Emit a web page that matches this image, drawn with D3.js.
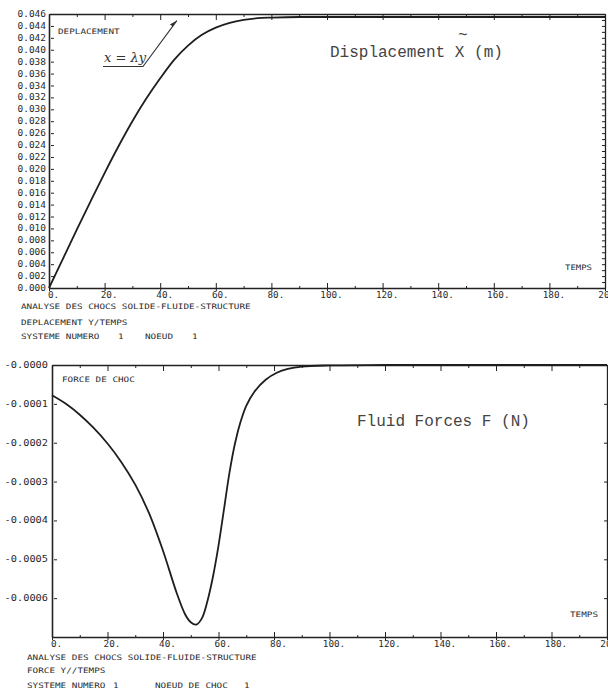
<!DOCTYPE html>
<html lang="fr">
  <head>
    <meta charset="utf-8">
    <title>Analyse des chocs solide-fluide-structure</title>
    <script src="https://cdn.jsdelivr.net/npm/d3@7"></script>
    <style>
      body { margin: 0; background: #fff; }
      svg { display: block; }
      .plot { font-family: "DejaVu Sans Mono", monospace; fill: #2a2a2a; }
      .axis path, .axis line { stroke: #222; }
      .curve { fill: none; stroke: #1e1e1e; stroke-width: 1.8; }
      .big { font-family: "Liberation Mono", "DejaVu Sans Mono", monospace; font-size: 16px; fill: #444; }
    </style>
  </head>
  <body>
    <div id="chart"></div>
    <script>
      // time axis (TEMPS)
      var xTickValues = [0, 20, 40, 60, 80, 100, 120, 140, 160, 180, 200];
      var xTickLabels = ["0.", "20.", "40.", "60.", "80.", "100.", "120.", "140.", "160.", "180.", "200."];
      var xMinorTicks = [10, 30, 50, 70, 90, 110, 130, 150, 170, 190];

      // displacement Y / temps
      var dispTime = [0, 5, 10, 15, 20, 25, 30, 35, 40, 45, 50, 55, 60, 65, 70, 75, 80, 90, 100, 200];
      var dispValue = [0, 0.0049, 0.0098, 0.0146, 0.0193, 0.0238, 0.0280, 0.0318, 0.0352, 0.0383,
                       0.0407, 0.0425, 0.0437, 0.0445, 0.0450, 0.0453, 0.0454, 0.0455, 0.0455, 0.0455];
      var dispTickLabels = ["0.000", "0.002", "0.004", "0.006", "0.008", "0.010", "0.012", "0.014",
                            "0.016", "0.018", "0.020", "0.022", "0.024", "0.026", "0.028", "0.030",
                            "0.032", "0.034", "0.036", "0.038", "0.040", "0.042", "0.044", "0.046"];

      // force de choc / temps
      var forceTime = [0, 5, 10, 15, 20, 25, 30, 35, 40, 45, 48, 50, 52, 54, 56, 58, 60, 62, 64, 66,
                       68, 70, 73, 77, 81, 85, 90, 100, 120, 200];
      var forceValue = [-0.000078, -0.000100, -0.000128, -0.000162, -0.000202, -0.000250, -0.000308,
                        -0.000382, -0.000478, -0.000588, -0.000642, -0.000662, -0.000668, -0.000652,
                        -0.000608, -0.000545, -0.000465, -0.000370, -0.000275, -0.000200, -0.000145,
                        -0.000105, -0.000068, -0.000038, -0.000020, -0.000010, -0.000004, -0.000001, 0, 0];
      var forceTickLabels = ["-0.0000", "-0.0001", "-0.0002", "-0.0003", "-0.0004", "-0.0005", "-0.0006"];

      var W = 608, H = 692;
      var svg = d3.select("#chart").append("svg")
          .attr("width", W).attr("height", H);

      // plotter-like lettering: monospace squeezed to a fixed character pitch
      function ptext(g, str, x, y, size, pitch, anchor) {
        return g.append("text")
            .attr("class", "plot")
            .attr("x", x).attr("y", y)
            .attr("font-size", size)
            .attr("text-anchor", anchor || "start")
            .attr("textLength", str.length * pitch)
            .attr("lengthAdjust", "spacingAndGlyphs")
            .text(str);
      }

      function fitLabels(sel, pitch) {
        sel.selectAll("text").each(function() {
          var t = d3.select(this);
          t.attr("textLength", t.text().length * pitch).attr("lengthAdjust", "spacingAndGlyphs");
        });
      }

      function frame(g, x, y, yTicks, yLabels, yPitch, yPad, rightTicks) {
        var x0 = x.range()[0], x1 = x.range()[1];
        var y0 = y.range()[0], y1 = y.range()[1];

        // bottom axis, major ticks cross the line
        var xb = g.append("g").attr("class", "axis").attr("transform", "translate(0," + y0 + ")")
            .call(d3.axisBottom(x).tickValues(xTickValues)
              .tickFormat(function(d, i) { return xTickLabels[i]; })
              .tickSize(-5).tickSizeOuter(0).tickPadding(0));
        xb.select(".domain").attr("stroke-width", 1.3);
        xb.selectAll(".tick line").attr("y1", 3);
        xb.selectAll(".tick text").attr("class", "plot").attr("x", 4).attr("y", 10)
            .attr("font-size", 8).attr("dy", null);
        fitLabels(xb, 5.6);
        g.append("g").attr("class", "axis").attr("transform", "translate(0," + y0 + ")")
            .call(d3.axisBottom(x).tickValues(xMinorTicks).tickFormat("").tickSize(-2).tickSizeOuter(0))
            .select(".domain").remove();

        // top border with ticks hanging down
        var xt = g.append("g").attr("class", "axis").attr("transform", "translate(0," + y1 + ")")
            .call(d3.axisTop(x).tickValues(xTickValues).tickFormat("").tickSize(-6).tickSizeOuter(0));
        xt.select(".domain").attr("stroke-width", 1.3);
        g.append("g").attr("class", "axis").attr("transform", "translate(0," + y1 + ")")
            .call(d3.axisTop(x).tickValues(xMinorTicks).tickFormat("").tickSize(-3).tickSizeOuter(0))
            .select(".domain").remove();

        // left axis
        var yl = g.append("g").attr("class", "axis").attr("transform", "translate(" + x0 + ",0)")
            .call(d3.axisLeft(y).tickValues(yTicks)
              .tickFormat(function(d, i) { return yLabels[i]; })
              .tickSize(-5).tickSizeOuter(0).tickPadding(yPad));
        yl.select(".domain").attr("stroke-width", 1.6);
        yl.selectAll(".tick line").attr("x1", 2);
        yl.selectAll(".tick text").attr("class", "plot").attr("font-size", 8);
        fitLabels(yl, yPitch);

        // right border with small inward ticks
        var yr = g.append("g").attr("class", "axis").attr("transform", "translate(" + x1 + ",0)")
            .call(d3.axisRight(y).tickValues(rightTicks).tickFormat("").tickSize(-3).tickSizeOuter(0));
        yr.select(".domain").attr("stroke-width", 1.3);
      }

      // ---- top chart: displacement
      var xTop = d3.scaleLinear().domain([0, 200]).range([49, 605]);
      var yTop = d3.scaleLinear().domain([0, 0.046]).range([288, 14]);
      var gTop = svg.append("g");
      var dispTicks = dispTickLabels.map(Number);
      frame(gTop, xTop, yTop, dispTicks, dispTickLabels, 5.7, 3,
            d3.range(0, 47).map(function(i) { return i * 0.001; }));

      gTop.append("path")
          .datum(dispTime.map(function(t, i) { return [t, dispValue[i]]; }))
          .attr("class", "curve")
          .attr("d", d3.line().x(function(d) { return xTop(d[0]); })
                              .y(function(d) { return yTop(d[1]); })
                              .curve(d3.curveMonotoneX));

      ptext(gTop, "DEPLACEMENT", 58, 34, 7.5, 5.6);
      ptext(gTop, "TEMPS", 565, 270, 7.5, 5.4);

      // x = λy annotation with pointer to the plateau
      gTop.append("text").attr("x", 104).attr("y", 62)
          .attr("font-family", "DejaVu Serif, serif").attr("font-style", "italic")
          .attr("font-size", 13).attr("fill", "#333").text("x = λy");
      var tip = [xTop(46), yTop(0.0449)];
      gTop.append("path")
          .attr("d", "M103,66.5H143L" + tip[0] + "," + tip[1])
          .attr("fill", "none").attr("stroke", "#333").attr("stroke-width", 1.1);
      gTop.append("path")
          .attr("d", "M" + tip[0] + "," + tip[1] + "l-7,4l3,2z")
          .attr("fill", "#333");

      gTop.append("text").attr("class", "big").attr("x", 330).attr("y", 57)
          .text("Displacement X  (m)");
      gTop.append("text").attr("class", "big").attr("x", 458).attr("y", 40)
          .attr("font-size", 14).text("~");

      ptext(gTop, "ANALYSE DES CHOCS SOLIDE-FLUIDE-STRUCTURE", 21, 309, 7.5, 5.6);
      ptext(gTop, "DEPLACEMENT Y/TEMPS", 21, 325, 7.5, 5.6);
      ptext(gTop, "SYSTEME NUMERO", 21, 339, 7.5, 5.6);
      ptext(gTop, "1", 118, 339, 7.5, 5.6);
      ptext(gTop, "NOEUD", 145, 339, 7.5, 5.6);
      ptext(gTop, "1", 192, 339, 7.5, 5.6);

      // ---- bottom chart: shock force
      var xBot = d3.scaleLinear().domain([0, 200]).range([52, 607]);
      var yBot = d3.scaleLinear().domain([-0.0007, 0]).range([637, 365]);
      var gBot = svg.append("g");
      var forceTicks = forceTickLabels.map(Number);
      frame(gBot, xBot, yBot, forceTicks, forceTickLabels, 6.2, 4,
            d3.range(0, 8).map(function(i) { return -i * 0.0001; }));

      gBot.append("path")
          .datum(forceTime.map(function(t, i) { return [t, forceValue[i]]; }))
          .attr("class", "curve")
          .attr("d", d3.line().x(function(d) { return xBot(d[0]); })
                              .y(function(d) { return yBot(d[1]); })
                              .curve(d3.curveCatmullRom));

      ptext(gBot, "FORCE DE CHOC", 62, 382, 7.5, 5.6);
      ptext(gBot, "TEMPS", 570, 617, 7.5, 5.6);
      gBot.append("text").attr("class", "big").attr("x", 357).attr("y", 426)
          .text("Fluid Forces F (N)");

      ptext(gBot, "ANALYSE DES CHOCS SOLIDE-FLUIDE-STRUCTURE", 27, 660, 7.5, 5.6);
      ptext(gBot, "FORCE Y//TEMPS", 27, 673, 7.5, 5.6);
      ptext(gBot, "SYSTEME NUMERO", 27, 688, 7.5, 5.6);
      ptext(gBot, "1", 113, 688, 7.5, 5.6);
      ptext(gBot, "NOEUD DE CHOC", 155, 688, 7.5, 5.6);
      ptext(gBot, "1", 244, 688, 7.5, 5.6);
    </script>
  </body>
</html>
